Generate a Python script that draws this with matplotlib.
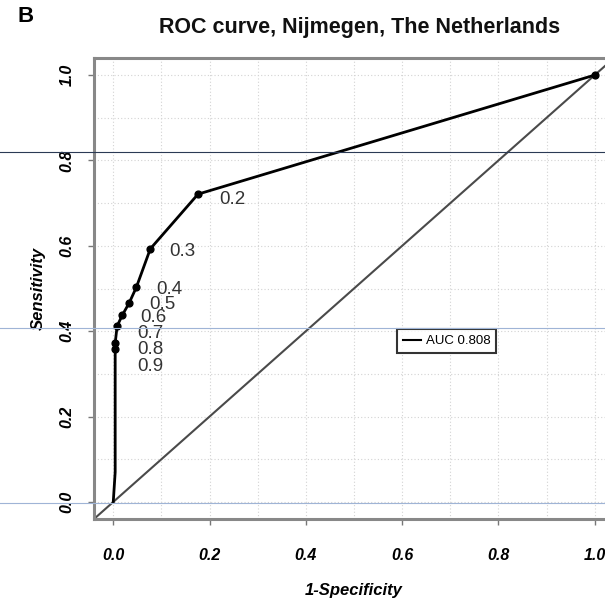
import numpy as np
import matplotlib
matplotlib.use("Agg")
import matplotlib.pyplot as plt
from matplotlib.lines import Line2D

# ROC points (1-specificity, sensitivity), one per cut-off
fpr = [1.0, 0.176, 0.077, 0.048, 0.033, 0.019, 0.008, 0.004, 0.004, 0.004, 0.0]
tpr = [1.0, 0.721, 0.593, 0.503, 0.466, 0.438, 0.412, 0.372, 0.358, 0.07, 0.0]
cutoff_fpr = [1.0, 0.176, 0.077, 0.048, 0.033, 0.019, 0.008, 0.004, 0.004]
cutoff_tpr = [1.0, 0.721, 0.593, 0.503, 0.466, 0.438, 0.412, 0.372, 0.358]
cutoff_labels = ["", "0.2", "0.3", "0.4", "0.5", "0.6", "0.7", "0.8", "0.9"]
auc = 0.808

# label nudges in pixels (right, down) so the crowded ones stay readable
label_dx = [0, 21, 19, 20, 20, 18, 20, 22, 22]
label_dy = [0, 5, 3, 2, 1, 3, 7, 6, 17]

plt.rcParams["font.family"] = ["Liberation Sans", "DejaVu Sans"]

fig = plt.figure(figsize=(6.05, 5.99), dpi=100)
W, H = 605, 599
# plot region in pixels (left, top, right, bottom)
px_l, px_t, px_r, px_b = 94, 58, 614, 519
ax = fig.add_axes([px_l / W, 1 - px_b / H, (px_r - px_l) / W, (px_b - px_t) / H])

ax.set_xlim(-0.04, 1.04)
ax.set_ylim(-0.04, 1.04)

# dotted grid every 0.1
for g in np.arange(0, 1.01, 0.1):
    ax.axvline(g, color="#d3d3d3", lw=0.8, ls=(0, (1, 2)), zorder=0)
    ax.axhline(g, color="#d3d3d3", lw=0.8, ls=(0, (1, 2)), zorder=0)

# chance line
ax.axline((0, 0), (1, 1), color="#4a4a4a", lw=1.5, zorder=1)

ax.plot(fpr, tpr, color="black", lw=2, zorder=2)
ax.scatter(cutoff_fpr, cutoff_tpr, s=24, color="black", zorder=3)

px2pt = 72 / 100
for x, y, lab, dx, dy in zip(cutoff_fpr, cutoff_tpr, cutoff_labels, label_dx, label_dy):
    if lab:
        ax.annotate(lab, (x, y), xytext=(dx * px2pt, -dy * px2pt), textcoords="offset points",
                    ha="left", va="center", fontsize=13.5, color="#333333")

leg = ax.legend([Line2D([0], [0], color="black", lw=1.5)], [f"AUC {auc:.3f}"],
                loc="center", bbox_to_anchor=(0.693, 0.377),
                bbox_transform=ax.transData, fontsize=9.5, frameon=True,
                fancybox=False, edgecolor="black", handlelength=1.3,
                handletextpad=0.4, borderpad=0.45, borderaxespad=0)
leg.get_frame().set_linewidth(1.5)

ticks = [0.0, 0.2, 0.4, 0.6, 0.8, 1.0]
ax.set_xticks(ticks)
ax.set_yticks(ticks)
ax.set_xticklabels([f"{t:.1f}" for t in ticks], fontsize=11.5, fontweight="bold", style="italic")
ax.set_yticklabels([f"{t:.1f}" for t in ticks], fontsize=11.5, fontweight="bold", style="italic",
                   rotation=90, va="center")
ax.tick_params(direction="out", length=4, width=1, color="#777777")
ax.tick_params(axis="x", pad=17)
ax.tick_params(axis="y", pad=10)
for sp in ax.spines.values():
    sp.set_color("#888888")
    sp.set_linewidth(2.2)

ax.set_xlabel("1-Specificity", fontsize=12, fontweight="bold", style="italic", labelpad=14)
ax.set_ylabel("Sensitivity", fontsize=12, fontweight="bold", style="italic", labelpad=10)

fig.text(360 / W, 1 - 28 / H, "ROC curve, Nijmegen, The Netherlands", ha="center", va="center",
         fontsize=15.5, fontweight="bold", color="#111111")
fig.text(26 / W, 1 - 17 / H, "B", ha="center", va="center", fontsize=16, fontweight="bold")

# horizontal rules running across the scanned page
fig.add_artist(Line2D([0, 1], [1 - 152 / H] * 2, transform=fig.transFigure, color="#2b3a55", lw=0.8))
fig.add_artist(Line2D([0, 1], [1 - 328 / H] * 2, transform=fig.transFigure, color="#9fb4d6", lw=0.8))
fig.add_artist(Line2D([0, 1], [1 - 503 / H] * 2, transform=fig.transFigure, color="#9fb4d6", lw=0.8))

fig.savefig("out.png", dpi=100)
